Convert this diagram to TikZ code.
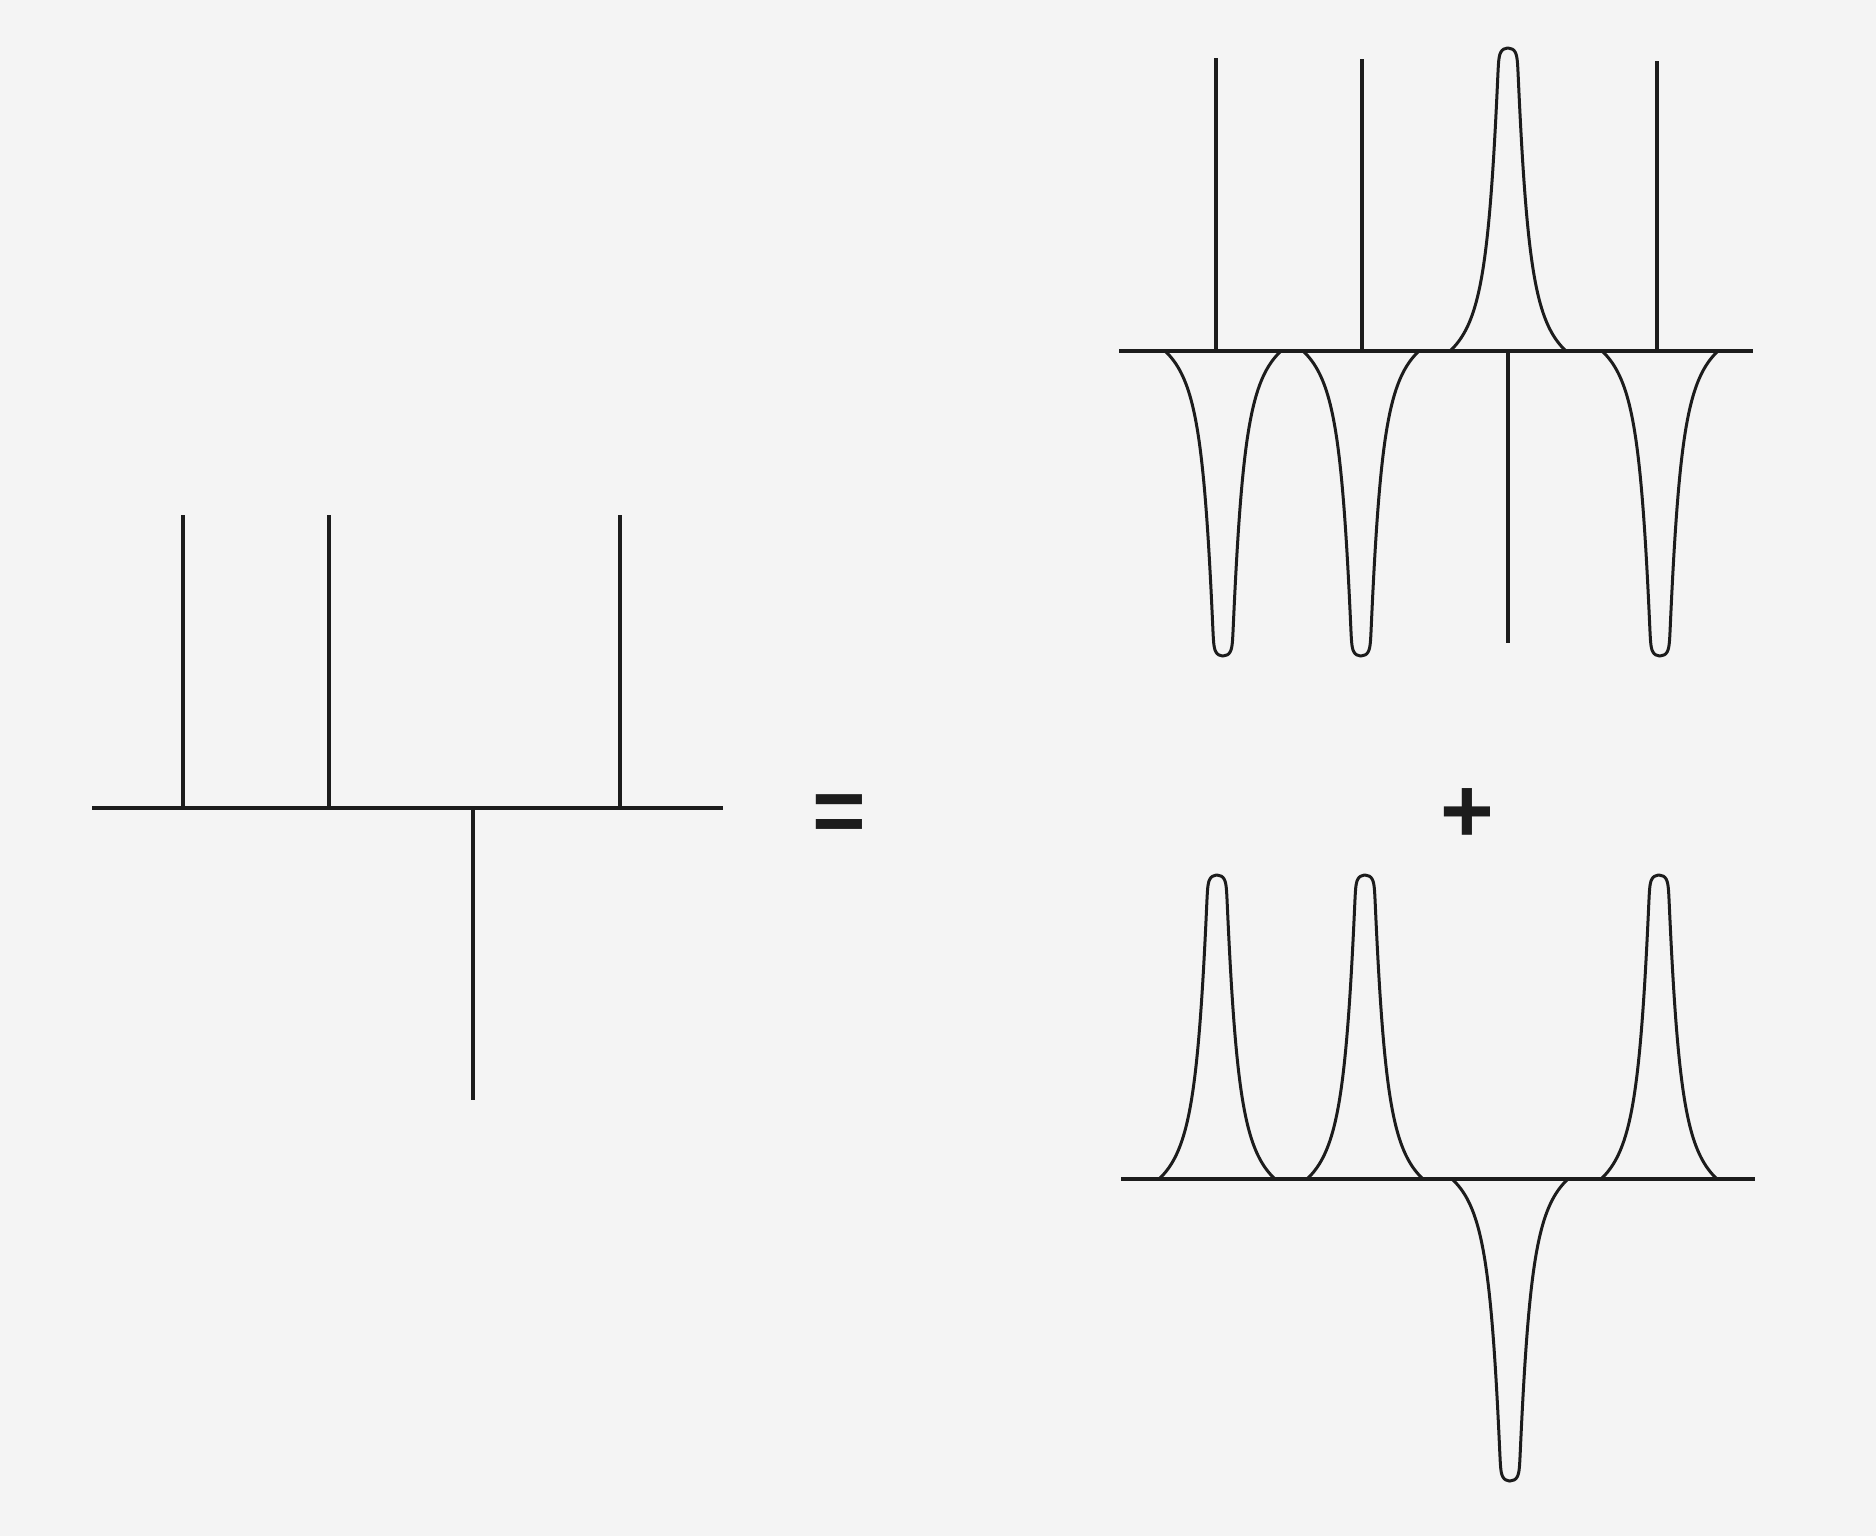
\documentclass[tikz,border=0pt]{standalone}
\usepackage{fontspec}
\setsansfont{Liberation Sans}
\definecolor{paper}{RGB}{244,244,244}
\definecolor{ink}{RGB}{28,28,28}
% half-width of a peak at relative depth u (0 = tip, 1 = baseline)
\tikzset{declare function={
  capw(\h)=9*sqrt(1-exp(-2*\h/9));
  pkw(\u)=capw(\u*304)+7*\u+7.25*(1/(1.15-\u)-1/1.15);
}}
% #1 centre x, #2 baseline y (pixel row), #3 signed height (positive = upwards)
\newcommand\mypeak[3]{%
  \draw[curve]
    plot[domain=1:0,samples=260,variable=\u] ({#1-pkw(\u)},{#2-(#3)*(1-\u)})
    -- plot[domain=0:1,samples=260,variable=\u] ({#1+pkw(\u)},{#2-(#3)*(1-\u)});}
\begin{document}
\begin{tikzpicture}[x=1pt,y=-1pt,
  axisline/.style={line width=4.5pt,draw=ink},
  spike/.style={line width=3.4pt,draw=ink},
  curve/.style={line width=3pt,draw=ink,line join=round},
  sign/.style={font=\sffamily\bfseries\fontsize{92}{92}\selectfont,text=ink,inner sep=0pt,anchor=base}]
\fill[paper] (0,0) rectangle (1876,1536);
\useasboundingbox (0,0) rectangle (1876,1536);

% ---------- left: point charges ----------
\coordinate (La) at (92,808);
\coordinate (Lb) at (723,808);
\foreach \x/\n in {183/1,329/2,620/3}{
  \coordinate (Lup\n) at (\x,515);
  \draw[spike] (\x,808) -- (Lup\n);
}
\coordinate (Ldn) at (473,1100);
\draw[spike] (473,808) -- (Ldn);
\draw[axisline] (La) -- (Lb);

% ---------- signs ----------
\node[sign] (eq) at (839,842) {=};
\node[sign] (plus) at (1467,842) {+};

% ---------- top right: charges screened ----------
\coordinate (Ta) at (1119,351);
\coordinate (Tb) at (1753,351);
\foreach \x/\t/\n in {1216/58/1,1362/59/2,1657/61/3}{
  \coordinate (Tup\n) at (\x,\t);
  \draw[spike] (\x,351) -- (Tup\n);
}
\coordinate (Tdn) at (1508,643);
\draw[spike] (1508,351) -- (Tdn);
\mypeak{1508}{351}{303}
\mypeak{1223}{351}{-305}
\mypeak{1361}{351}{-305}
\mypeak{1660}{351}{-305}
\draw[axisline] (Ta) -- (Tb);

% ---------- bottom right: compensating charge clouds ----------
\coordinate (Ba) at (1121,1179);
\coordinate (Bb) at (1755,1179);
\mypeak{1217}{1179}{304}
\mypeak{1365}{1179}{304}
\mypeak{1659}{1179}{304}
\mypeak{1510}{1179}{-302}
\draw[axisline] (Ba) -- (Bb);
\end{tikzpicture}
\end{document}
